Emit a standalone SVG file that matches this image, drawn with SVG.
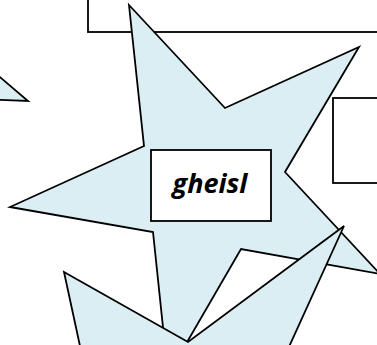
<svg xmlns="http://www.w3.org/2000/svg" width="377" height="345" viewBox="0 0 377 345">
<style>
.box{fill:#ffffff;stroke:#000;stroke-width:1.8}
.star{fill:#DAEEF3;stroke:#000;stroke-width:1.8;stroke-linejoin:miter}
.lbl{font-family:"Open Sans","Liberation Sans",sans-serif;font-weight:bold;font-style:italic;font-size:27px;fill:#000}
</style>
<rect width="377" height="345" fill="#ffffff"/>
<g id="top-box"><rect class="box" x="88" y="-10" width="300" height="42"/></g>
<g id="right-box"><rect class="box" x="333" y="98" width="60" height="85"/></g>
<g id="left-star"><polygon class="star" points="-20,60 28,101 -20,99"/></g>
<g id="big-star"><polygon class="star" points="129,5 225,108 359,47 285,172 380,274 241,249 168,375 153,232 10,207 144,146"/></g>
<g id="center-node">
<rect class="box" x="151" y="150" width="120" height="71"/>
<text class="lbl" x="210" y="193" text-anchor="middle">gheisl</text>
</g>
<g id="lower-star"><polygon class="star" points="64,272 188,342 344,226 283,360 83,360"/></g>
<g id="connectors"></g>
</svg>
